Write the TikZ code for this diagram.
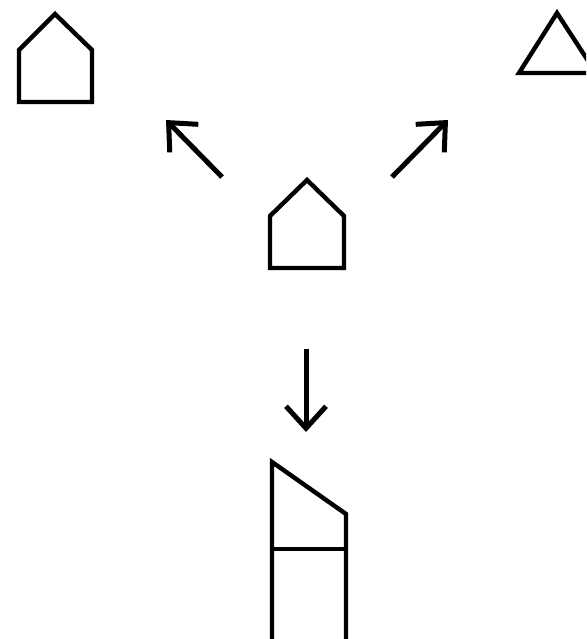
\documentclass[tikz,border=0pt]{standalone}
\usetikzlibrary{arrows.meta}
\begin{document}
\begin{tikzpicture}[x=1pt,y=-1pt]
\tikzset{
  outline/.style={line width=4.4pt,line join=miter},
  pointer/.style={line width=5pt,-{Straight Barb[length=22pt,width=40pt,line width=5pt]}}
}
\useasboundingbox (0,0) rectangle (586,639);
\clip (0,0) rectangle (586,639);
% shapes
\draw[outline] (19,102) -- (19,50) -- (55,14) -- (92,50) -- (92,102) -- cycle;
\draw[outline] (519,73) -- (557,13) -- (596,73) -- cycle;
\draw[outline] (270,268) -- (270,216) -- (307,180) -- (344,216) -- (344,268) -- cycle;
\draw[outline] (272,650) -- (272,462) -- (346,514) -- (346,650);
\draw[outline] (272,549) -- (346,549);
% arrow ends
\coordinate (l_from) at (222,177);
\coordinate (l_to) at (166,120);
\coordinate (r_from) at (392,177);
\coordinate (r_to) at (448,120);
\coordinate (d_from) at (306,349);
\coordinate (d_to) at (306,432);
\draw[pointer] (l_from) -- (l_to);
\draw[pointer] (r_from) -- (r_to);
\draw[pointer] (d_from) -- (d_to);
\end{tikzpicture}
\end{document}
